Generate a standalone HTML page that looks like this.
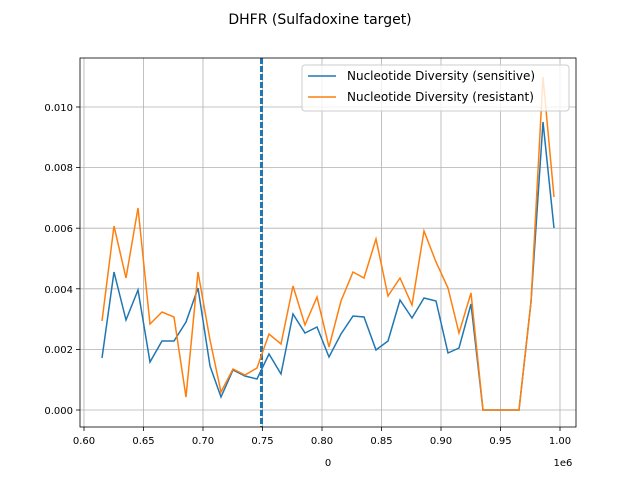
<!DOCTYPE html><html><head><style>body{margin:0;background:#fff}svg{display:block;font-family:"DejaVu Sans",sans-serif}</style></head><body>
<svg width="640" height="480" xmlns="http://www.w3.org/2000/svg">
<text x="320" y="24" font-size="14" text-anchor="middle">DHFR (Sulfadoxine target)</text>
<g stroke="#b0b0b0" stroke-width="0.8">
<line x1="84" y1="58" x2="84" y2="427"/><line x1="143.5" y1="58" x2="143.5" y2="427"/><line x1="203" y1="58" x2="203" y2="427"/><line x1="262.5" y1="58" x2="262.5" y2="427"/><line x1="322" y1="58" x2="322" y2="427"/><line x1="381.5" y1="58" x2="381.5" y2="427"/><line x1="441" y1="58" x2="441" y2="427"/><line x1="500.5" y1="58" x2="500.5" y2="427"/><line x1="560" y1="58" x2="560" y2="427"/>
<line x1="80" y1="410" x2="576" y2="410"/><line x1="80" y1="349.4" x2="576" y2="349.4"/><line x1="80" y1="288.8" x2="576" y2="288.8"/><line x1="80" y1="228.2" x2="576" y2="228.2"/><line x1="80" y1="167.6" x2="576" y2="167.6"/><line x1="80" y1="107" x2="576" y2="107"/>
</g>
<line x1="261.5" y1="58" x2="261.5" y2="427" stroke="#1f77b4" stroke-width="3" stroke-dasharray="6,2"/>
<polyline fill="none" stroke="#1f77b4" stroke-width="1.5" points="102,358 114,272 126,320 138,290 150,362 162,341 174,341 186,322 198,288 210,366 221,397 233,370 245,376 257,379 269,354 281,374 293,314 305,333 317,327 329,357 341,334 353,316 364,317 376,350 388,341 400,300 412,318 424,298 436,301 448,353 459,348 471,304 483,410 495,410 507,410 519,410 531,302 543,122 554,228"/>
<polyline fill="none" stroke="#ff7f0e" stroke-width="1.5" points="102,321 114,226 126,278 138,208 150,324 162,312 174,317 186,397 198,272 210,340 221,392 233,369 245,375 257,368 269,334 281,344 293,286 305,325 317,297 329,347 341,301 353,272 364,278 376,239 388,296 400,278 412,305 424,231 436,262 448,288 459,333 471,293 483,410 495,410 507,410 519,410 531,302 543,77 554,197"/>
<rect x="80" y="58" width="496" height="369" fill="none" stroke="#000" stroke-width="0.8"/>
<g stroke="#000" stroke-width="0.8">
<line x1="84" y1="427" x2="84" y2="431"/><line x1="143.5" y1="427" x2="143.5" y2="431"/><line x1="203" y1="427" x2="203" y2="431"/><line x1="262.5" y1="427" x2="262.5" y2="431"/><line x1="322" y1="427" x2="322" y2="431"/><line x1="381.5" y1="427" x2="381.5" y2="431"/><line x1="441" y1="427" x2="441" y2="431"/><line x1="500.5" y1="427" x2="500.5" y2="431"/><line x1="560" y1="427" x2="560" y2="431"/>
<line x1="76" y1="410" x2="80" y2="410"/><line x1="76" y1="349.4" x2="80" y2="349.4"/><line x1="76" y1="288.8" x2="80" y2="288.8"/><line x1="76" y1="228.2" x2="80" y2="228.2"/><line x1="76" y1="167.6" x2="80" y2="167.6"/><line x1="76" y1="107" x2="80" y2="107"/>
</g>
<g font-size="10" text-anchor="middle">
<text x="84" y="444">0.60</text><text x="143.5" y="444">0.65</text><text x="203" y="444">0.70</text><text x="262.5" y="444">0.75</text><text x="322" y="444">0.80</text><text x="381.5" y="444">0.85</text><text x="441" y="444">0.90</text><text x="500.5" y="444">0.95</text><text x="560" y="444">1.00</text>
<text x="328" y="466">0</text><text x="563" y="466">1e6</text>
</g>
<g font-size="10" text-anchor="end">
<text x="73" y="414">0.000</text><text x="73" y="353">0.002</text><text x="73" y="293">0.004</text><text x="73" y="232">0.006</text><text x="73" y="171">0.008</text><text x="73" y="111">0.010</text>
</g>
<rect x="302" y="65" width="267" height="46" rx="3" fill="#fff" fill-opacity="0.8" stroke="#ccc"/>
<line x1="308" y1="76" x2="336" y2="76" stroke="#1f77b4" stroke-width="1.5"/>
<line x1="308" y1="97" x2="336" y2="97" stroke="#ff7f0e" stroke-width="1.5"/>
<text x="347" y="80" font-size="12">Nucleotide Diversity (sensitive)</text>
<text x="347" y="101" font-size="12">Nucleotide Diversity (resistant)</text>
</svg></body></html>
